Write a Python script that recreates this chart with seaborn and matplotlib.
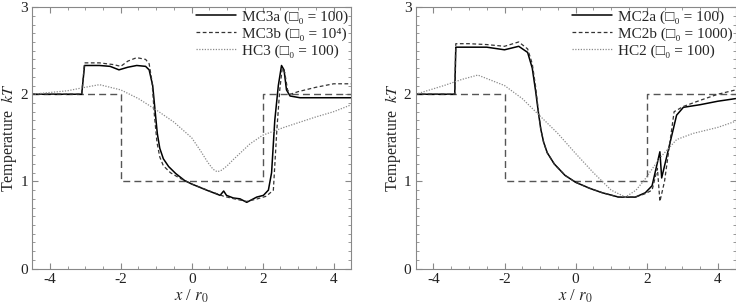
import numpy as np
import pandas as pd
import matplotlib
matplotlib.use("Agg")
import matplotlib.pyplot as plt
import seaborn as sns
from matplotlib.ticker import MultipleLocator

sns.set_style("ticks")
plt.rcParams['font.family'] = ['Liberation Serif', 'DejaVu Serif', 'DejaVu Sans']
plt.rcParams['mathtext.fontset'] = 'stix'
plt.rcParams['axes.unicode_minus'] = False

# ---- initial condition (step) ----
step_x = [-4.5, -2.0, -2.0, 2.0, 2.0, 4.5]
step_y = [2.0, 2.0, 1.0, 1.0, 2.0, 2.0]

# ---- left panel ----
mc3a_x = [-4.5, -3.1, -3.02, -2.6, -2.3, -2.05, -1.8, -1.55, -1.3, -1.2, -1.1, -1.03, -0.97, -0.9,
          -0.8, -0.65, -0.45, -0.2, 0.0, 0.42, 0.8, 0.9, 0.98, 1.17, 1.36, 1.55, 1.83, 2.02, 2.16,
          2.25, 2.34, 2.44, 2.53, 2.6, 2.67, 2.77, 3.05, 3.5, 4.0, 4.5]
mc3a_y = [2.0, 2.0, 2.33, 2.33, 2.32, 2.28, 2.31, 2.33, 2.32, 2.28, 2.1, 1.8, 1.55, 1.38,
          1.26, 1.17, 1.09, 1.01, 0.97, 0.9, 0.84, 0.89, 0.84, 0.81, 0.8, 0.76, 0.82, 0.84, 0.9,
          1.1, 1.7, 2.1, 2.33, 2.28, 2.05, 1.98, 1.96, 1.96, 1.96, 1.96]
mc3b_x = [-4.5, -3.1, -3.02, -2.6, -2.2, -2.0, -1.8, -1.55, -1.3, -1.2, -1.12, -1.05, -0.98, -0.9,
          -0.8, -0.6, -0.35, 0.0, 0.5, 0.9, 1.2, 1.55, 1.85, 2.1, 2.3, 2.4, 2.48, 2.55, 2.62, 2.7,
          2.78, 3.0, 3.5, 4.0, 4.5]
mc3b_y = [2.0, 2.0, 2.36, 2.36, 2.34, 2.32, 2.38, 2.42, 2.4, 2.35, 2.15, 1.75, 1.45, 1.28,
          1.18, 1.1, 1.04, 0.97, 0.89, 0.83, 0.8, 0.77, 0.8, 0.83, 0.9, 1.6, 2.05, 2.3, 2.25, 2.05,
          2.0, 2.03, 2.08, 2.12, 2.12]
hc3_x = [-4.5, -3.5, -3.0, -2.6, -2.0, -1.5, -1.0, -0.5, 0.0, 0.25, 0.45, 0.6, 0.72, 0.85, 1.0,
         1.17, 1.64, 2.0, 2.6, 3.05, 3.5, 4.0, 4.5]
hc3_y = [2.0, 2.04, 2.08, 2.11, 2.05, 1.95, 1.82, 1.68, 1.5, 1.35, 1.22, 1.14, 1.11, 1.13, 1.18,
         1.25, 1.43, 1.53, 1.62, 1.68, 1.74, 1.8, 1.88]

# ---- right panel ----
mc2a_x = [-4.5, -3.4, -3.37, -3.0, -2.5, -2.0, -1.6, -1.35, -1.22, -1.13, -1.05, -0.98, -0.9,
          -0.8, -0.6, -0.3, 0.0, 0.4, 0.75, 1.21, 1.68, 1.96, 2.15, 2.37, 2.42, 2.6, 2.84, 3.03,
          3.5, 4.0, 4.5]
mc2a_y = [2.0, 2.0, 2.54, 2.54, 2.54, 2.51, 2.55, 2.48, 2.3, 2.05, 1.8, 1.6, 1.45,
          1.33, 1.2, 1.07, 0.99, 0.92, 0.87, 0.82, 0.82, 0.87, 0.95, 1.34, 1.04, 1.35, 1.76, 1.85,
          1.88, 1.92, 1.95]
mc2b_x = [-4.5, -3.4, -3.37, -3.0, -2.5, -2.0, -1.6, -1.35, -1.22, -1.13, -1.05, -0.98, -0.9,
          -0.8, -0.6, -0.3, 0.0, 0.4, 0.75, 1.21, 1.68, 1.96, 2.15, 2.3, 2.37, 2.5, 2.77, 3.03,
          3.5, 4.0, 4.5]
mc2b_y = [2.0, 2.0, 2.58, 2.58, 2.57, 2.55, 2.6, 2.52, 2.35, 2.1, 1.82, 1.6, 1.45,
          1.33, 1.2, 1.07, 0.99, 0.92, 0.87, 0.82, 0.82, 0.86, 0.9, 1.15, 0.77, 1.0, 1.8, 1.86,
          1.93, 2.0, 2.05]
hc2_x = [-4.5, -3.7, -3.2, -2.75, -2.0, -1.5, -1.0, -0.5, 0.0, 0.5, 1.0, 1.4, 1.7, 1.96, 2.37,
         2.84, 3.3, 4.0, 4.5]
hc2_y = [2.0, 2.1, 2.17, 2.22, 2.1, 1.95, 1.75, 1.55, 1.32, 1.1, 0.9, 0.82, 0.9, 1.03, 1.27,
         1.48, 1.55, 1.62, 1.69]

labels_left = ["MC3a (□₀ = 100)", "MC3b (□₀ = 10⁴)", "HC3 (□₀ = 100)"]
labels_right = ["MC2a (□₀ = 100)", "MC2b (□₀ = 1000)", "HC2 (□₀ = 100)"]

fig = plt.figure(figsize=(7.36, 3.08), dpi=100)
axL = fig.add_axes([0.0435, 0.128, 0.434, 0.849])
axR = fig.add_axes([0.5647, 0.128, 0.4348, 0.849])

styles = [dict(color='black', lw=1.1, linestyle='-'),
          dict(color='#333333', lw=0.9, linestyle=(0, (3, 2))),
          dict(color='#8a8a8a', lw=0.9, linestyle=(0, (1, 1.2)))]

def draw(ax, series, labels):
    sns.lineplot(x=step_x, y=step_y, ax=ax, estimator=None, sort=False,
                 color='#555555', lw=1.0, linestyle=(0, (5, 3)))
    for (xs, ys), lab, st in zip(series, labels, styles):
        sns.lineplot(x=xs, y=ys, ax=ax, estimator=None, sort=False, label=lab, **st)
    ax.set_xlim(-4.5, 4.5)
    ax.set_ylim(0, 3)
    ax.xaxis.set_major_locator(MultipleLocator(2))
    ax.xaxis.set_minor_locator(MultipleLocator(0.5))
    ax.yaxis.set_major_locator(MultipleLocator(1))
    ax.yaxis.set_minor_locator(MultipleLocator(0.1))
    ax.tick_params(which='both', direction='in', top=True, right=True, labelsize=11,
                   colors='#222222', pad=3)
    ax.tick_params(which='major', length=4, color='#888888')
    ax.tick_params(which='minor', length=2, color='#888888')
    for sp in ax.spines.values():
        sp.set_color('#888888')
        sp.set_linewidth(0.8)
    ax.set_xlabel("$x$ / $r_0$", fontsize=12, labelpad=1)
    ax.set_ylabel("Temperature  $kT$", fontsize=11.5)
    ax.yaxis.set_label_coords(-0.04, 0.5)
    ax.legend(loc='upper right', frameon=False, fontsize=11, handlelength=2.6,
              handletextpad=0.4, labelspacing=0.2, borderaxespad=0.1, borderpad=0.1)

draw(axL, [(mc3a_x, mc3a_y), (mc3b_x, mc3b_y), (hc3_x, hc3_y)], labels_left)
draw(axR, [(mc2a_x, mc2a_y), (mc2b_x, mc2b_y), (hc2_x, hc2_y)], labels_right)

fig.savefig("out.png", dpi=100)
